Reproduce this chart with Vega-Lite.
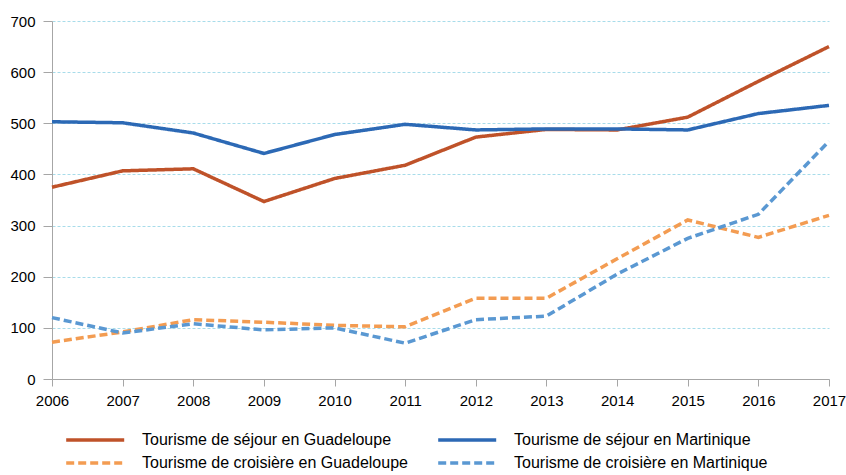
{
  "$schema": "https://vega.github.io/schema/vega-lite/v6.json",
  "autosize": "none",
  "width": 777,
  "height": 358,
  "padding": {"left": 52, "top": 21, "right": 17, "bottom": 96},
  "background": "white",
  "config": {
    "font": "Liberation Sans",
    "view": {"stroke": null}
  },
  "data": {
    "values": [
      {"annee": 2006, "serie": "Tourisme de séjour en Guadeloupe", "valeur": 375},
      {"annee": 2007, "serie": "Tourisme de séjour en Guadeloupe", "valeur": 407},
      {"annee": 2008, "serie": "Tourisme de séjour en Guadeloupe", "valeur": 411},
      {"annee": 2009, "serie": "Tourisme de séjour en Guadeloupe", "valeur": 347},
      {"annee": 2010, "serie": "Tourisme de séjour en Guadeloupe", "valeur": 392},
      {"annee": 2011, "serie": "Tourisme de séjour en Guadeloupe", "valeur": 418},
      {"annee": 2012, "serie": "Tourisme de séjour en Guadeloupe", "valeur": 473},
      {"annee": 2013, "serie": "Tourisme de séjour en Guadeloupe", "valeur": 488},
      {"annee": 2014, "serie": "Tourisme de séjour en Guadeloupe", "valeur": 487},
      {"annee": 2015, "serie": "Tourisme de séjour en Guadeloupe", "valeur": 512},
      {"annee": 2016, "serie": "Tourisme de séjour en Guadeloupe", "valeur": 582},
      {"annee": 2017, "serie": "Tourisme de séjour en Guadeloupe", "valeur": 650},
      {"annee": 2006, "serie": "Tourisme de séjour en Martinique", "valeur": 503},
      {"annee": 2007, "serie": "Tourisme de séjour en Martinique", "valeur": 501},
      {"annee": 2008, "serie": "Tourisme de séjour en Martinique", "valeur": 481},
      {"annee": 2009, "serie": "Tourisme de séjour en Martinique", "valeur": 441},
      {"annee": 2010, "serie": "Tourisme de séjour en Martinique", "valeur": 478},
      {"annee": 2011, "serie": "Tourisme de séjour en Martinique", "valeur": 498},
      {"annee": 2012, "serie": "Tourisme de séjour en Martinique", "valeur": 487},
      {"annee": 2013, "serie": "Tourisme de séjour en Martinique", "valeur": 489},
      {"annee": 2014, "serie": "Tourisme de séjour en Martinique", "valeur": 489},
      {"annee": 2015, "serie": "Tourisme de séjour en Martinique", "valeur": 487},
      {"annee": 2016, "serie": "Tourisme de séjour en Martinique", "valeur": 519},
      {"annee": 2017, "serie": "Tourisme de séjour en Martinique", "valeur": 535},
      {"annee": 2006, "serie": "Tourisme de croisière en Guadeloupe", "valeur": 72},
      {"annee": 2007, "serie": "Tourisme de croisière en Guadeloupe", "valeur": 92},
      {"annee": 2008, "serie": "Tourisme de croisière en Guadeloupe", "valeur": 116},
      {"annee": 2009, "serie": "Tourisme de croisière en Guadeloupe", "valeur": 111},
      {"annee": 2010, "serie": "Tourisme de croisière en Guadeloupe", "valeur": 105},
      {"annee": 2011, "serie": "Tourisme de croisière en Guadeloupe", "valeur": 102},
      {"annee": 2012, "serie": "Tourisme de croisière en Guadeloupe", "valeur": 158},
      {"annee": 2013, "serie": "Tourisme de croisière en Guadeloupe", "valeur": 158},
      {"annee": 2014, "serie": "Tourisme de croisière en Guadeloupe", "valeur": 235},
      {"annee": 2015, "serie": "Tourisme de croisière en Guadeloupe", "valeur": 311},
      {"annee": 2016, "serie": "Tourisme de croisière en Guadeloupe", "valeur": 277},
      {"annee": 2017, "serie": "Tourisme de croisière en Guadeloupe", "valeur": 320},
      {"annee": 2006, "serie": "Tourisme de croisière en Martinique", "valeur": 120},
      {"annee": 2007, "serie": "Tourisme de croisière en Martinique", "valeur": 90},
      {"annee": 2008, "serie": "Tourisme de croisière en Martinique", "valeur": 108},
      {"annee": 2009, "serie": "Tourisme de croisière en Martinique", "valeur": 96},
      {"annee": 2010, "serie": "Tourisme de croisière en Martinique", "valeur": 100},
      {"annee": 2011, "serie": "Tourisme de croisière en Martinique", "valeur": 70},
      {"annee": 2012, "serie": "Tourisme de croisière en Martinique", "valeur": 116},
      {"annee": 2013, "serie": "Tourisme de croisière en Martinique", "valeur": 123},
      {"annee": 2014, "serie": "Tourisme de croisière en Martinique", "valeur": 205},
      {"annee": 2015, "serie": "Tourisme de croisière en Martinique", "valeur": 275},
      {"annee": 2016, "serie": "Tourisme de croisière en Martinique", "valeur": 322},
      {"annee": 2017, "serie": "Tourisme de croisière en Martinique", "valeur": 465}
    ]
  },
  "mark": {"type": "line", "strokeWidth": 3.5, "strokeCap": "butt", "strokeJoin": "miter"},
  "encoding": {
    "x": {
      "field": "annee",
      "type": "quantitative",
      "scale": {"domain": [2006, 2017], "nice": false, "zero": false},
      "axis": {
        "title": null,
        "values": [2006, 2007, 2008, 2009, 2010, 2011, 2012, 2013, 2014, 2015, 2016, 2017],
        "format": "d",
        "grid": false,
        "domainColor": "#a6a6a6",
        "tickColor": "#a6a6a6",
        "tickSize": 7,
        "labelFontSize": 15,
        "labelColor": "#000000",
        "labelPadding": 7,
        "labelFlush": false
      }
    },
    "y": {
      "field": "valeur",
      "type": "quantitative",
      "scale": {"domain": [0, 700], "nice": false},
      "axis": {
        "title": null,
        "values": [0, 100, 200, 300, 400, 500, 600, 700],
        "grid": true,
        "gridColor": "#a8dcea",
        "gridDash": [3, 2],
        "gridWidth": 1,
        "domainColor": "#a6a6a6",
        "tickColor": "#a6a6a6",
        "tickSize": 9,
        "labelFontSize": 15,
        "labelColor": "#000000",
        "labelPadding": 8
      }
    },
    "color": {
      "field": "serie",
      "type": "nominal",
      "sort": ["Tourisme de séjour en Guadeloupe", "Tourisme de séjour en Martinique", "Tourisme de croisière en Guadeloupe", "Tourisme de croisière en Martinique"],
      "scale": {
        "domain": ["Tourisme de séjour en Guadeloupe", "Tourisme de séjour en Martinique", "Tourisme de croisière en Guadeloupe", "Tourisme de croisière en Martinique"],
        "range": ["#bf5229", "#2c69b5", "#f39c52", "#5a98d2"]
      },
      "legend": {
        "title": null,
        "orient": "none",
        "legendX": 12,
        "legendY": 411,
        "padding": 0,
        "direction": "horizontal",
        "columns": 2,
        "columnPadding": 23,
        "rowPadding": 7,
        "symbolType": "M-1,0H9",
        "symbolSize": 134.6,
        "symbolStrokeWidth": 3.5,
        "labelFontSize": 16,
        "labelColor": "#000000",
        "labelOffset": 62,
        "labelLimit": 400
      }
    },
    "strokeDash": {
      "field": "serie",
      "type": "nominal",
      "scale": {
        "domain": ["Tourisme de séjour en Guadeloupe", "Tourisme de séjour en Martinique", "Tourisme de croisière en Guadeloupe", "Tourisme de croisière en Martinique"],
        "range": [[1, 0], [1, 0], [8, 4], [8, 4]]
      },
      "legend": null
    }
  }
}
